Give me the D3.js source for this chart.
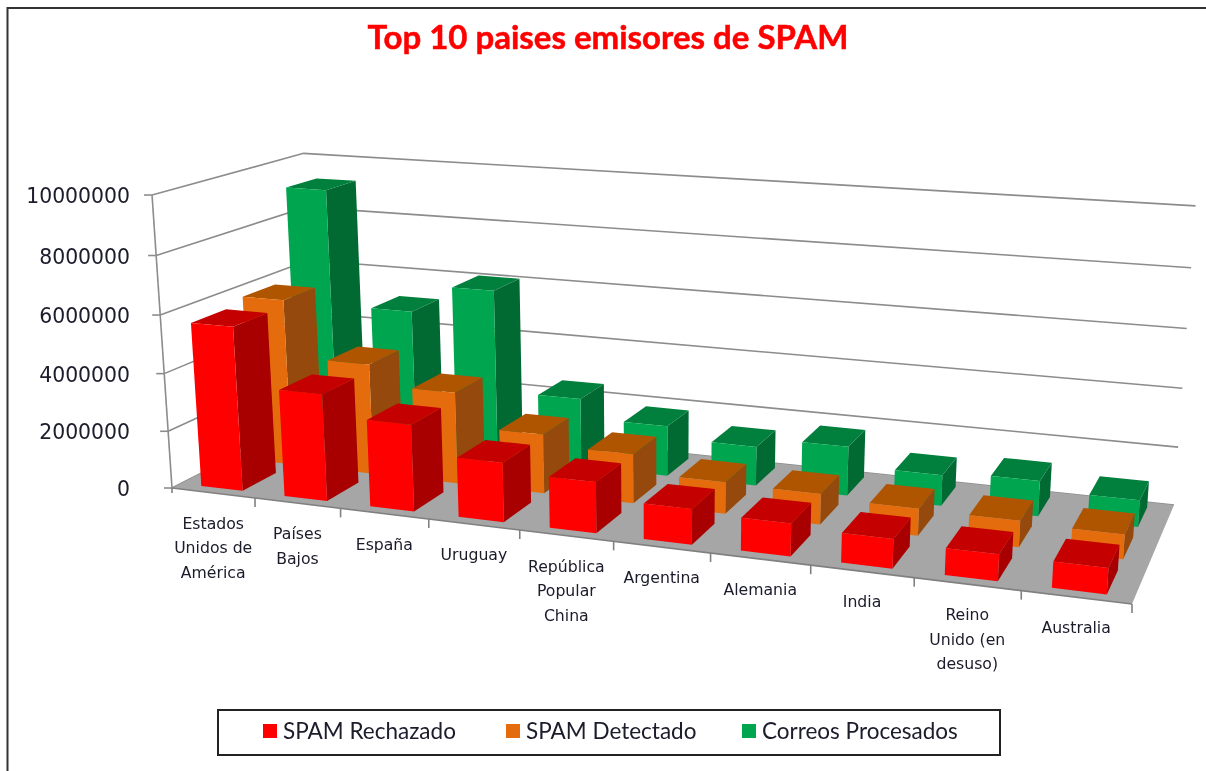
<!DOCTYPE html>
<html><head><meta charset="utf-8">
<script src="https://cdn.jsdelivr.net/npm/d3@7/dist/d3.min.js"></script>
<style>html,body{margin:0;padding:0;background:#fff}svg{display:block}</style></head>
<body><svg id="c" width="1206" height="771"></svg>
<script>
const categories = [["Estados","Unidos de","América"],["Países","Bajos"],["España"],["Uruguay"],["República","Popular","China"],["Argentina"],["Alemania"],["India"],["Reino","Unido (en","desuso)"],["Australia"]];
const seriesNames = ["SPAM Rechazado","SPAM Detectado","Correos Procesados"];
const spamRechazado = [5680000,3670000,2950000,2000000,1700000,1170000,1070000,950000,850000,820000];
const spamDetectado = [5900000,3900000,3200000,2050000,1700000,1080000,1030000,900000,870000,800000];
const correosProcesados = [9200000,5050000,6050000,2450000,1780000,1370000,1700000,1050000,1200000,900000];
const valueTicks = [0,2000000,4000000,6000000,8000000,10000000];
const seriesValues = [spamRechazado,spamDetectado,correosProcesados];
const colors = [
 {front:"#FF0000",top:"#C40000",side:"#A80000"},
 {front:"#E46C0A",top:"#AF5406",side:"#964807"},
 {front:"#00A64F",top:"#007F3C",side:"#006A32"}];

const X = d3.scaleBand().domain(d3.range(categories.length)).range([0,1]).paddingInner(.5).paddingOuter(.25);
const Z = d3.scaleBand().domain(d3.range(3)).range([0,1]).paddingInner(1/3).paddingOuter(1/6);
const Y = d3.scaleLinear().domain([0,10000000]).range([0,1]);

// Projective camera fitted to the chart's box
const corner = {A:[172,488,1],G:[1132,604,.852],E:[1174,505,.978],D:[316,415,1.126]};
const up = [660,7650,-.0393];
function project(x,v,z){
  const c = (k)=>{
    const f=(p)=>p[k]*(k<2?p[2]:1);
    return (1-x)*(1-z)*f(corner.A)+x*(1-z)*f(corner.G)+x*z*f(corner.E)+(1-x)*z*f(corner.D);
  };
  const w=c(2)+v*up[2];
  return [(c(0)+v*up[2]*up[0])/w,(c(1)+v*up[2]*up[1])/w];
}
const root=d3.select("#c");
root.append("defs").append("filter").attr("id","soft")
  .attr("filterUnits","userSpaceOnUse").attr("x",0).attr("y",0).attr("width",1206).attr("height",771)
  .append("feGaussianBlur").attr("stdDeviation",.7);
const svg=root.append("g").attr("filter","url(#soft)");
const line=d3.line();
const poly=(pts)=>line(pts)+"Z";

// outer frame
svg.append("path").attr("d","M1206,8H7.5V771").attr("fill","none").attr("stroke","#303030").attr("stroke-width",2);

// title
svg.append("text").attr("x",608).attr("y",49).attr("text-anchor","middle")
 .attr("font-family","Lato").attr("font-weight",700).attr("font-size",33).attr("fill","#FF0000")
 .attr("stroke","#FF0000").attr("stroke-width",.5)
 .text("Top 10 paises emisores de SPAM");

// gridlines on the walls
const gridColor="#8c8c8c";
valueTicks.forEach(t=>{
  const v=Y(t);
  svg.append("path").attr("d",line([project(0,v,0),project(0,v,1),project(1,v,1)]))
   .attr("fill","none").attr("stroke",gridColor).attr("stroke-width",1.6);
  const p=project(0,v,0);
  svg.append("line").attr("x1",p[0]-8).attr("y1",p[1]).attr("x2",p[0]).attr("y2",p[1]).attr("stroke",gridColor).attr("stroke-width",1.6);
  svg.append("text").attr("x",130).attr("y",p[1]+8).attr("text-anchor","end")
   .attr("font-family","DejaVu Sans").attr("font-size",20.4).attr("fill","#1a1a2a").text(t);
});
svg.append("path").attr("d",line([project(0,0,0),project(0,1,0)])).attr("stroke",gridColor).attr("stroke-width",1.6).attr("fill","none");

// floor
svg.append("path").attr("d",poly([project(0,0,0),project(1,0,0),project(1,0,1),project(0,0,1)])).attr("fill","#A6A6A6");
svg.append("path").attr("d",line([project(0,0,0),project(1,0,0)])).attr("stroke","#808080").attr("stroke-width",1.6).attr("fill","none");

// category ticks
d3.range(categories.length+1).forEach(i=>{
  const p=project(i/categories.length,0,0);
  svg.append("line").attr("x1",p[0]).attr("y1",p[1]).attr("x2",p[0]).attr("y2",p[1]+(i==0?5:9)).attr("stroke","#808080").attr("stroke-width",1.6);
});

// bars: back row first, then left to right
[2,1,0].forEach(s=>{
  const g=svg.append("g").attr("class","series-"+s);
  seriesValues[s].forEach((d,i)=>{
    const x0=X(i),x1=x0+X.bandwidth(),z0=Z(s),z1=z0+Z.bandwidth(),v=Y(d);
    g.append("path").attr("d",poly([project(x1,0,z0),project(x1,0,z1),project(x1,v,z1),project(x1,v,z0)])).attr("fill",colors[s].side);
    g.append("path").attr("d",poly([project(x0,v,z0),project(x1,v,z0),project(x1,v,z1),project(x0,v,z1)])).attr("fill",colors[s].top);
    g.append("path").attr("d",poly([project(x0,0,z0),project(x1,0,z0),project(x1,v,z0),project(x0,v,z0)])).attr("fill",colors[s].front);
  });
});

// category labels
categories.forEach((lines,i)=>{
  const p=project((i+.5)/categories.length,0,0);
  const t=svg.append("text").attr("text-anchor","middle").attr("font-family","DejaVu Sans").attr("font-size",15.7).attr("fill","#1a1a2a");
  lines.forEach((l,j)=>t.append("tspan").attr("x",p[0]).attr("y",p[1]+36+j*24.5).text(l));
});

// legend
svg.append("rect").attr("x",218).attr("y",710).attr("width",782).attr("height",45).attr("fill","#fff").attr("stroke","#222").attr("stroke-width",2);
const legendX=d3.scaleOrdinal().domain(d3.range(3)).range([263,506,742]);
seriesNames.forEach((n,s)=>{
  svg.append("rect").attr("x",legendX(s)).attr("y",724).attr("width",14).attr("height",14).attr("fill",colors[s].front);
  svg.append("text").attr("x",legendX(s)+20).attr("y",739).attr("font-family","Lato").attr("font-size",22.5).attr("fill","#1a1a2a").text(n);
});
</script></body></html>
